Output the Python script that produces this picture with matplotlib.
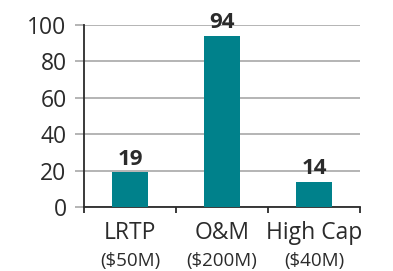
import matplotlib.pyplot as plt
import matplotlib.transforms as mtransforms
from matplotlib.ticker import FixedLocator

plt.rcParams['font.family'] = ['Open Sans', 'DejaVu Sans']

categories = ["LRTP", "O&M", "High Cap"]
budgets = ["($50M)", "($200M)", "($40M)"]
values = [19, 94, 14]
yticks = [0, 20, 40, 60, 80, 100]

teal = "#00818b"
dark = "#2b2b2b"
grid = "#a8a8a8"

fig = plt.figure(figsize=(3.93, 2.71), dpi=100)
ax = fig.add_axes([0.2137, 0.236, 0.7023, 0.672])

x = list(range(len(categories)))
bars = ax.bar(x, values, width=0.4, color=teal, zorder=3)
for b, v in zip(bars, values):
    ax.annotate(str(v), (b.get_x() + b.get_width() / 2, v),
                xytext=(0, 2), textcoords="offset points",
                ha="center", va="bottom", fontsize=16, fontweight="bold",
                color=dark)

ax.set_xlim(-0.5, 2.5)
ax.set_ylim(0, 100)
ax.set_yticks(yticks)
ax.yaxis.grid(True, color=grid, linewidth=1.2, zorder=0)
ax.tick_params(axis="y", length=6.5, width=1.2, color=grid, pad=6,
               labelsize=16.5, labelcolor=dark)
ax.yaxis.get_major_ticks()[0].tick1line.set_color(dark)

ax.set_xticks(x)
ax.set_xticklabels(categories)
ax.tick_params(axis="x", which="major", length=0, pad=10, labelsize=16.5,
               labelcolor=dark)
ax.xaxis.set_minor_locator(FixedLocator([-0.5, 0.5, 1.5, 2.5]))
ax.tick_params(axis="x", which="minor", length=4.5, width=1.3, color=dark,
               direction="out")

trans = mtransforms.blended_transform_factory(ax.transData, ax.transAxes)
for xi, s in zip(x, budgets):
    ax.text(xi, -0.245, s, transform=trans, ha="center", va="top",
            fontsize=13.5, color=dark)

for side in ["top", "right"]:
    ax.spines[side].set_visible(False)
ax.spines["left"].set_color(dark)
ax.spines["left"].set_linewidth(1.3)
ax.spines["bottom"].set_color(dark)
ax.spines["bottom"].set_linewidth(1.3)

fig.savefig("out.png", dpi=100)
